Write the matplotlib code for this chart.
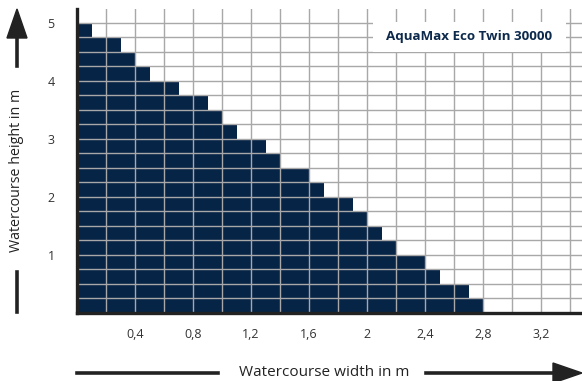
import matplotlib
matplotlib.use("Agg")
import matplotlib.pyplot as plt
from matplotlib.patches import Polygon, Rectangle
from matplotlib.lines import Line2D

# Pump capacity: max watercourse width (m) for each 0.25 m height step, bottom to top
row_heights = [0.25 * i for i in range(20)]
row_widths = [2.8, 2.7, 2.5, 2.4, 2.2, 2.1, 2.0, 1.9, 1.7, 1.6,
              1.4, 1.3, 1.1, 1.0, 0.9, 0.7, 0.5, 0.4, 0.3, 0.1]
x_ticks = [0.4, 0.8, 1.2, 1.6, 2.0, 2.4, 2.8, 3.2]
x_tick_labels = ["0,4", "0,8", "1,2", "1,6", "2", "2,4", "2,8", "3,2"]
y_ticks = [1, 2, 3, 4, 5]
model_name = "AquaMax Eco Twin 30000"

NAVY = "#062446"
DARK = "#222222"
W, H = 582, 381

plt.rcParams["font.family"] = ["Open Sans", "DejaVu Sans"]

fig = plt.figure(figsize=(W / 100, H / 100), dpi=100)


def px(x, y):
    # pixel coords (top-left origin) -> figure fraction
    return x / W, 1 - y / H


l, b = px(77, 313)
r, t = px(582, 9)
ax = fig.add_axes([l, b, r - l, t - b])

ax.barh(row_heights, row_widths, height=0.25, align="edge", color=NAVY,
        linewidth=0, zorder=1)

ax.set_xlim(0, 3.48)
ax.set_ylim(0, 5.24)

# labelled ticks are major, the rest of the grid is minor
ax.set_xticks(x_ticks)
ax.set_xticklabels(x_tick_labels)
ax.set_xticks([0.2 * i for i in range(18)], minor=True)
ax.set_yticks(y_ticks)
ax.set_yticklabels([str(v) for v in y_ticks])
ax.set_yticks([0.25 * i for i in range(21)], minor=True)
ax.grid(True, which="both", color="#a8a8a8", linewidth=1.0)
ax.set_axisbelow(False)
ax.tick_params(which="both", length=0, labelsize=9, colors="#333333")
ax.tick_params(axis="x", pad=11)
ax.tick_params(axis="y", pad=16)

for side in ["top", "right"]:
    ax.spines[side].set_visible(False)
for side in ["left", "bottom"]:
    ax.spines[side].set_color(DARK)
    ax.spines[side].set_linewidth(2.4)
    ax.spines[side].set_zorder(5)

# model label box
ax.add_patch(Rectangle((2.04, 4.5), 1.33, 0.52, facecolor="white",
                       edgecolor="none", zorder=6))
ax.text(2.705, 4.76, model_name, ha="center", va="center", fontsize=9.6,
        fontweight="bold", color="#0d2a4d", zorder=7)

# axis labels with arrows
fig.text(*px(17, 170), "Watercourse height in m", rotation=90, ha="center",
         va="center", fontsize=10.3, color=DARK)
fig.text(*px(324, 372), "Watercourse width in m", ha="center", va="center",
         fontsize=11, color=DARK)

lines = [
    [(17, 66), (17, 37)],
    [(17, 272), (17, 312)],
    [(77, 373), (218, 373)],
    [(426, 373), (555, 373)],
]
for p0, p1 in lines:
    (x0, y0), (x1, y1) = px(*p0), px(*p1)
    fig.add_artist(Line2D([x0, x1], [y0, y1], color=DARK, linewidth=2.6,
                          transform=fig.transFigure))

heads = [
    [(7, 38), (27, 38), (17, 9)],
    [(553, 363), (553, 383), (582, 373)],
]
for pts in heads:
    fig.add_artist(Polygon([px(*p) for p in pts], closed=True, color=DARK,
                           transform=fig.transFigure))

fig.savefig("out.png", dpi=100)
